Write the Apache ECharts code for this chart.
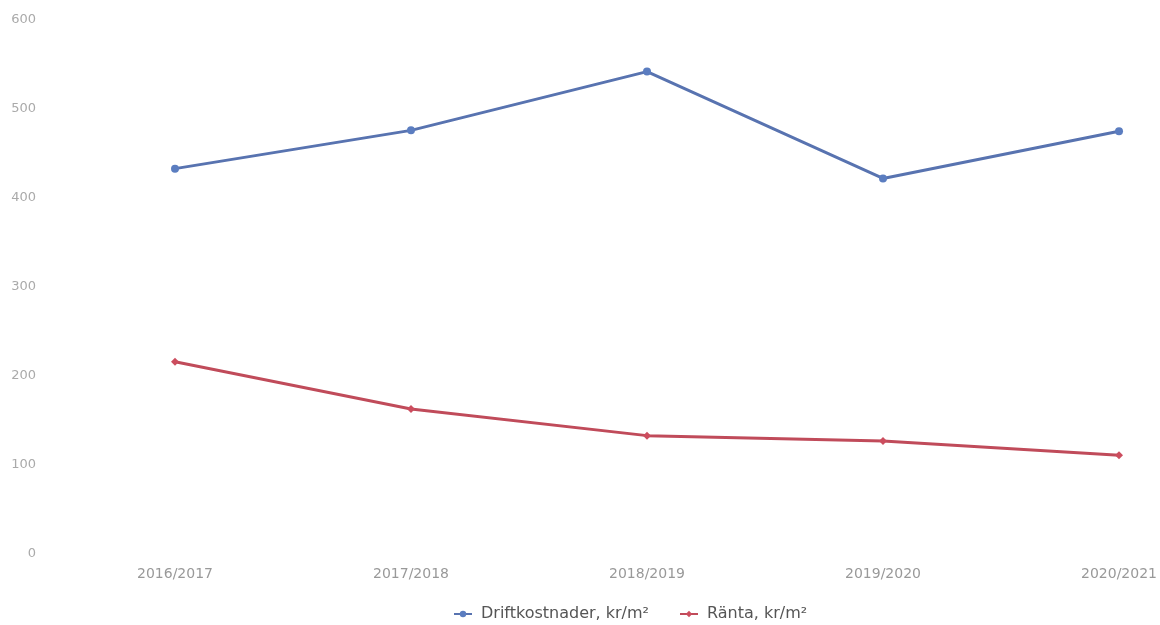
<!DOCTYPE html>
<html><head><meta charset="utf-8">
<script src="https://cdn.jsdelivr.net/npm/echarts@6/dist/echarts.min.js"></script>
<style>html,body{margin:0;padding:0;background:#fff}#c{width:1160px;height:625px}</style>
</head><body><div id="c"></div>
<script>
const categories = ['2016/2017','2017/2018','2018/2019','2019/2020','2020/2021'];
const driftkostnader = [433, 476, 542, 422, 475];
const ranta = [216, 163, 133, 127, 111];
const yTicks = [0, 100, 200, 300, 400, 500, 600];

const chart = echarts.init(document.getElementById('c'));
chart.setOption({
  animation: false,
  backgroundColor: '#fff',
  grid: {left: 175, right: 39, top: 20, bottom: 71},
  legend: {
    top: 601, left: 448, itemWidth: 18, itemHeight: 8, itemGap: 30,
    textStyle: {fontFamily: 'DejaVu Sans', fontSize: 16, color: '#555', padding: [0, 0, 0, 4]},
    data: ['Driftkostnader, kr/m²', 'Ränta, kr/m²']
  },
  xAxis: {
    type: 'category', data: categories, boundaryGap: false,
    axisLine: {show: false}, axisTick: {show: false}, splitLine: {show: false},
    axisLabel: {color: '#999', fontSize: 14, fontFamily: 'DejaVu Sans', margin: 13}
  },
  yAxis: {
    type: 'value', min: yTicks[0], max: yTicks[yTicks.length-1], interval: 100,
    axisLine: {show: false}, axisTick: {show: false}, splitLine: {show: false},
    axisLabel: {color: '#aaa', fontSize: 13, fontFamily: 'DejaVu Sans', margin: 139}
  },
  series: [
    {name: 'Driftkostnader, kr/m²', type: 'line', data: driftkostnader,
     symbol: 'circle', symbolSize: 8,
     lineStyle: {color: '#5873b0', width: 3},
     itemStyle: {color: '#5b7dc0'}},
    {name: 'Ränta, kr/m²', type: 'line', data: ranta,
     symbol: 'diamond', symbolSize: 8,
     lineStyle: {color: '#c04b5a', width: 3},
     itemStyle: {color: '#cc4d5e'}}
  ]
});
</script></body></html>
